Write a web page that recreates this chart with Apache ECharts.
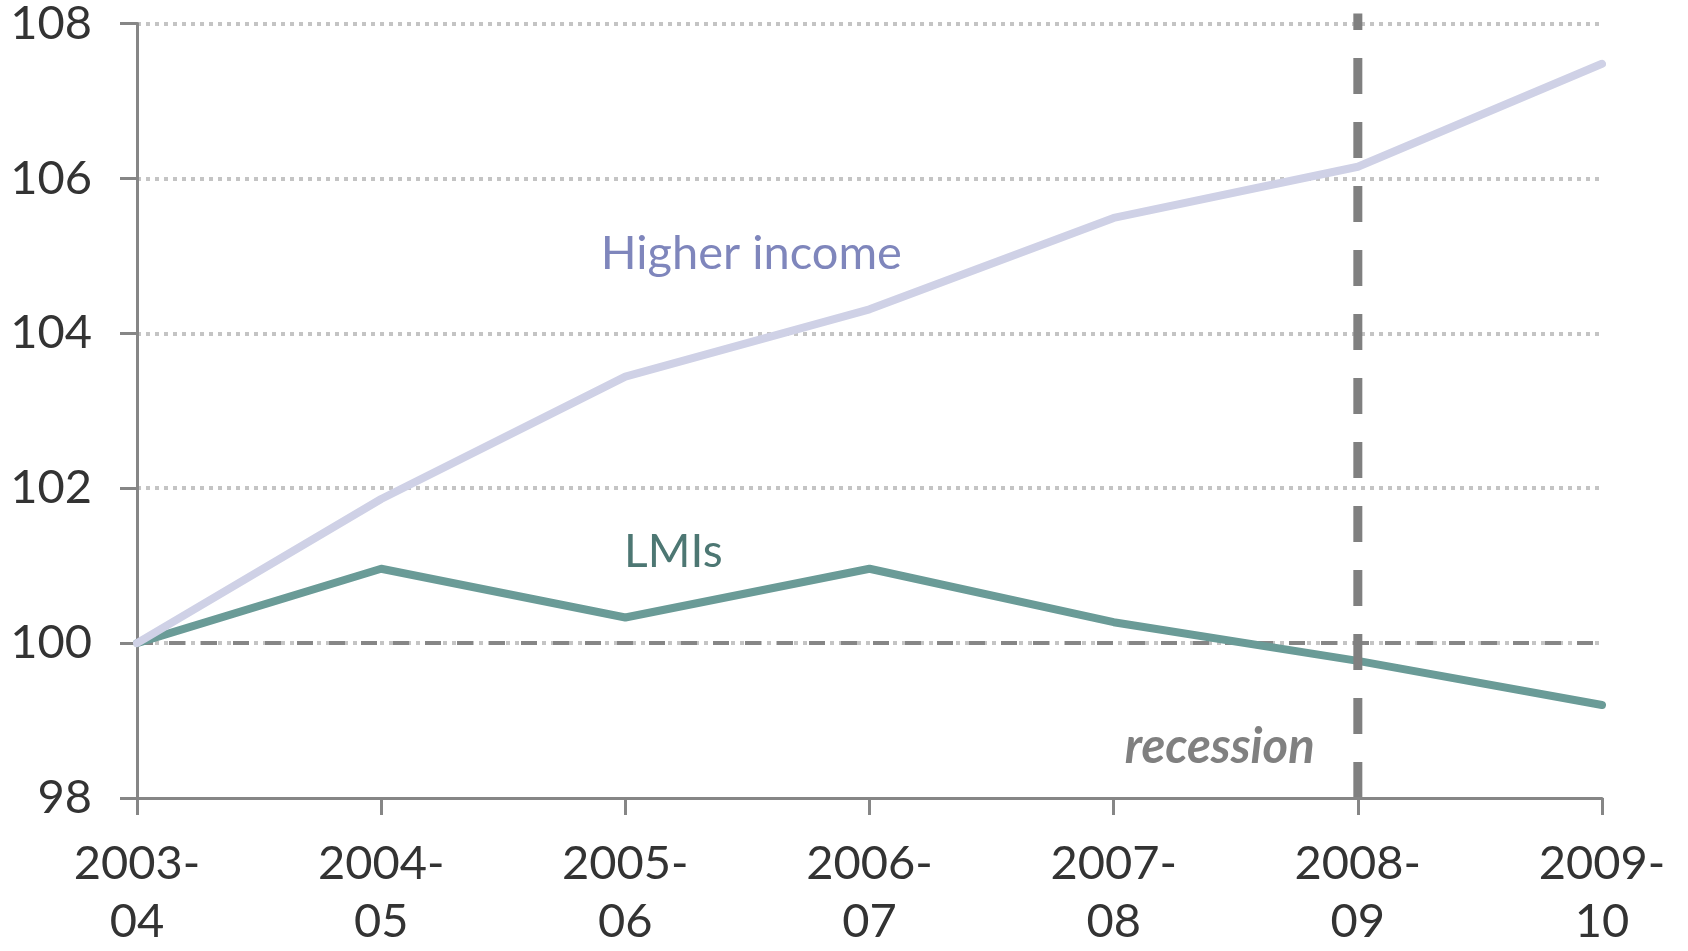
<!DOCTYPE html>
<html>
<head>
<meta charset="utf-8">
<script src="https://cdn.jsdelivr.net/npm/echarts@6/dist/echarts.min.js"></script>
<style>
html,body{margin:0;padding:0;background:#fff;}
#chart{width:1688px;height:951px;}
</style>
</head>
<body>
<div id="chart"></div>
<script>
const categories = ['2003-04', '2004-05', '2005-06', '2006-07', '2007-08', '2008-09', '2009-10'];
const higherIncome = [100, 101.86, 103.44, 104.31, 105.49, 106.15, 107.48];
const lmis = [100, 100.96, 100.33, 100.96, 100.27, 99.77, 99.2];
const baseline = [100, 100, 100, 100, 100, 100, 100];
const recessionStart = '2008-09';
const recessionLine = [[recessionStart, 98], [recessionStart, 108.13]];
const yMin = 98, yMax = 108, yStep = 2;

const FONT = 'Lato, "Open Sans", sans-serif';
const chart = echarts.init(document.getElementById('chart'), null, {renderer: 'canvas'});

chart.setOption({
  animation: false,
  backgroundColor: '#ffffff',
  grid: {left: 137, right: 86, top: 23, bottom: 150, containLabel: false},
  xAxis: {
    type: 'category',
    data: categories,
    boundaryGap: false,
    z: 10,
    axisLine: {lineStyle: {color: '#868686', width: 3}},
    axisTick: {show: true, length: 17, inside: false, lineStyle: {color: '#868686', width: 3}},
    axisLabel: {
      color: '#333333', fontFamily: FONT, fontSize: 47, lineHeight: 58, margin: 37,
      formatter: v => v.replace('-', '-\n'),
      align: 'center'
    },
    splitLine: {show: false}
  },
  yAxis: {
    type: 'value',
    min: yMin, max: yMax, interval: yStep,
    axisLine: {show: true, lineStyle: {color: '#868686', width: 3}},
    axisTick: {show: true, length: 17, lineStyle: {color: '#868686', width: 3}},
    axisLabel: {color: '#333333', fontFamily: FONT, fontSize: 47, margin: 45},
    splitLine: {show: true, showMinLine: false, lineStyle: {color: '#c4c4c4', width: 4, type: [4, 5]}}
  },
  series: [
    {
      name: 'baseline', type: 'line', data: baseline, symbol: 'none', silent: true,
      lineStyle: {color: '#868686', width: 4, type: [16, 16]}, z: 2
    },
    {
      name: 'LMIs', type: 'line', data: lmis, symbol: 'none',
      lineStyle: {color: '#6a9b97', width: 8, cap: 'round', join: 'round'}, z: 3,
      markPoint: {
        symbol: 'circle', symbolSize: 0, silent: true,
        label: {show: true, position: 'inside', offset: [48, 0], formatter: 'LMIs',
                color: '#4d7773', fontFamily: FONT, fontSize: 46},
        data: [{coord: ['2005-06', 101.17]}]
      }
    },
    {
      name: 'Higher income', type: 'line', data: higherIncome, symbol: 'none',
      lineStyle: {color: '#cfd1e6', width: 8, cap: 'round', join: 'round'}, z: 4,
      markPoint: {
        symbol: 'circle', symbolSize: 0, silent: true,
        label: {show: true, position: 'inside', offset: [126, 0], formatter: 'Higher income',
                color: '#7f86bc', fontFamily: FONT, fontSize: 47},
        data: [{coord: ['2005-06', 105.02]}]
      }
    },
    {
      name: 'recession', type: 'line', data: recessionLine, symbol: 'none', clip: false, silent: true,
      lineStyle: {color: '#808080', width: 9, type: [36, 28]}, z: 5,
      markPoint: {
        symbol: 'circle', symbolSize: 0, silent: true,
        label: {show: true, position: 'inside', offset: [106, 0], formatter: 'recession',
                color: '#808080', fontFamily: FONT, fontSize: 49, fontWeight: 'bold', fontStyle: 'italic'},
        data: [{coord: ['2007-08', 98.66]}]
      }
    }
  ]
});
</script>
</body>
</html>
